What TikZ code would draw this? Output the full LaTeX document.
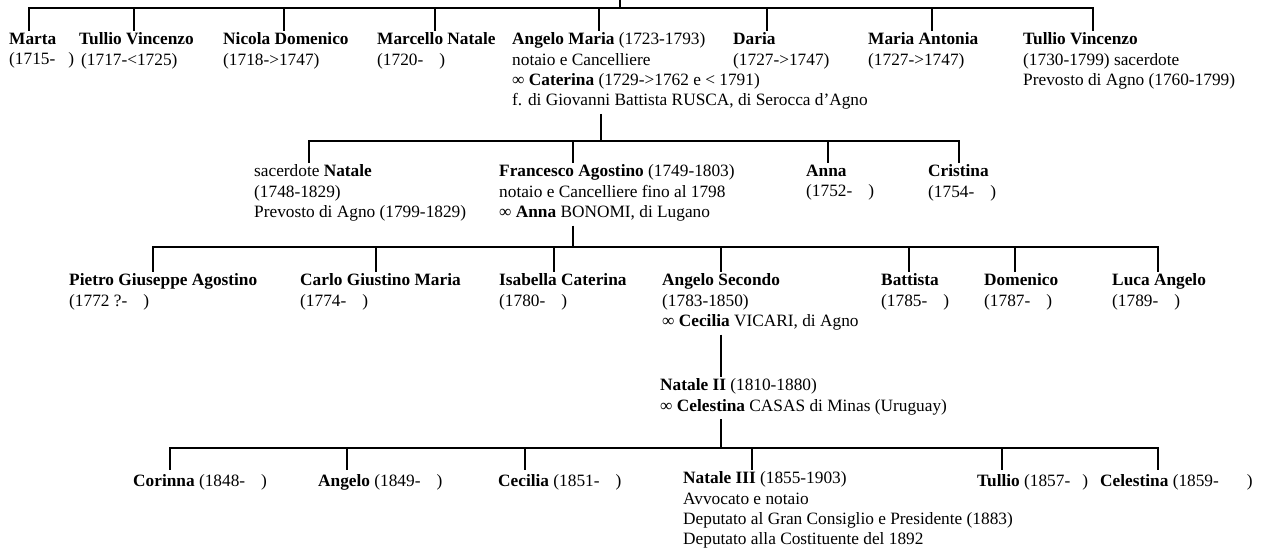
\documentclass[tikz,border=0pt]{standalone}
\usepackage{fontspec}
\setmainfont{Liberation Serif}
\begin{document}
\begin{tikzpicture}[x=1pt,y=-1pt,
    person/.style={anchor=north west,align=left,inner xsep=0pt,inner ysep=2pt,
      font=\fontsize{17.3}{20.3}\selectfont,
      execute at begin node=\strut,execute at end node=\strut},
    line/.style={line width=2.5pt}]
\useasboundingbox (0,0) rectangle (1266,559);

% first generation
\node[person] (m1) at (9,30.6) {\textbf{Marta}\\(1715-\hspace{13pt})};
\node[person] (m2) at (79,30.6) {\textbf{Tullio Vincenzo}\\\hspace{2pt}(1717-<1725)};
\node[person] (m3) at (223,30.6) {\textbf{Nicola Domenico}\\(1718->1747)};
\node[person] (m4) at (377,30.6) {\textbf{Marcello Natale}\\(1720-\hspace{16pt})};
\node[person] (m5) at (512,30.6) {\textbf{Angelo Maria} (1723-1793)\\notaio e Cancelliere\\∞ \textbf{Caterina} (1729->1762 e < 1791)\\f. di Giovanni Battista RUSCA, di Serocca d’Agno};
\node[person] (m6) at (733,30.6) {\textbf{Daria}\\(1727->1747)};
\node[person] (m7) at (868,30.6) {\textbf{Maria Antonia}\\(1727->1747)};
\node[person] (m8) at (1023,30.6) {\textbf{Tullio Vincenzo}\\(1730-1799) sacerdote\\Prevosto di Agno (1760-1799)};

% second generation
\node[person] (n1) at (254,162.6) {sacerdote \textbf{Natale}\\(1748-1829)\\Prevosto di Agno (1799-1829)};
\node[person] (n2) at (499,162.6) {\textbf{Francesco Agostino} (1749-1803)\\notaio e Cancelliere fino al 1798\\∞ \textbf{Anna} BONOMI, di Lugano};
\node[person] (n3) at (806,162.6) {\textbf{Anna}\\(1752-\hspace{16pt})};
\node[person] (n4) at (928,162.6) {\textbf{Cristina}\\(1754-\hspace{16pt})};

% third generation
\node[person] (g1) at (69,271.6) {\textbf{Pietro Giuseppe Agostino}\\(1772 ?-\hspace{16pt})};
\node[person] (g2) at (300,271.6) {\textbf{Carlo Giustino Maria}\\(1774-\hspace{16pt})};
\node[person] (g3) at (499,271.6) {\textbf{Isabella Caterina}\\(1780-\hspace{16pt})};
\node[person] (g4) at (662,271.6) {\textbf{Angelo Secondo}\\(1783-1850)\\∞ \textbf{Cecilia} VICARI, di Agno};
\node[person] (g5) at (881,271.6) {\textbf{Battista}\\(1785-\hspace{16pt})};
\node[person] (g6) at (984,271.6) {\textbf{Domenico}\\(1787-\hspace{16pt})};
\node[person] (g7) at (1112,271.6) {\textbf{Luca Angelo}\\(1789-\hspace{16pt})};

\node[person] (nat) at (660,376.6) {\textbf{Natale II} (1810-1880)\\∞ \textbf{Celestina} CASAS di Minas (Uruguay)};

% last generation
\node[person] (c1) at (133,469.6) {\textbf{Corinna} (1848-\hspace{16pt})};
\node[person] (c2) at (318,469.6) {\textbf{Angelo} (1849-\hspace{16pt})};
\node[person] (c3) at (498,469.6) {\textbf{Cecilia} (1851-\hspace{16pt})};
\node[person] (c4) at (683,469.6) {\textbf{Natale III} (1855-1903)\\Avvocato e notaio\\Deputato al Gran Consiglio e Presidente (1883)\\Deputato alla Costituente del 1892};
\node[person] (c5) at (977,469.6) {\textbf{Tullio} (1857-\hspace{12pt})};
\node[person] (c6) at (1100,469.6) {\textbf{Celestina} (1859-\hspace{28pt})};

% junctions on the bars
\coordinate (top) at (620,0);
\coordinate (j11) at (29,8);
\coordinate (j12) at (134,8);
\coordinate (j13) at (284,8);
\coordinate (j14) at (435,8);
\coordinate (j15) at (599,8);
\coordinate (j16) at (767,8);
\coordinate (j17) at (932,8);
\coordinate (j18) at (1093,8);
\coordinate (j20) at (601,141);
\coordinate (j21) at (309,141);
\coordinate (j22) at (573,141);
\coordinate (j23) at (828,141);
\coordinate (j24) at (959,141);
\coordinate (j30) at (573,247);
\coordinate (j31) at (153,247);
\coordinate (j32) at (376,247);
\coordinate (j33) at (554,247);
\coordinate (j34) at (721,247);
\coordinate (j35) at (909,247);
\coordinate (j36) at (1015,247);
\coordinate (j37) at (1158,247);
\coordinate (j40) at (721,448);
\coordinate (j41) at (170,448);
\coordinate (j42) at (347,448);
\coordinate (j43) at (525,448);
\coordinate (j44) at (752,448);
\coordinate (j45) at (1002,448);
\coordinate (j46) at (1158,448);

% first bar
\draw[line] (top) -- (top |- j11);
\draw[line] (j11 |- m1.north) -- (j11) -- (j18) -- (j18 |- m8.north);
\draw[line] (j12) -- (j12 |- m2.north);
\draw[line] (j13) -- (j13 |- m3.north);
\draw[line] (j14) -- (j14 |- m4.north);
\draw[line] (j15) -- (j15 |- m5.north);
\draw[line] (j16) -- (j16 |- m6.north);
\draw[line] (j17) -- (j17 |- m7.north);

% second bar
\draw[line] (j20 |- m5.south) -- (j20);
\draw[line] (j21 |- n1.north) -- (j21) -- (j24) -- (j24 |- n4.north);
\draw[line] (j22) -- (j22 |- n2.north);
\draw[line] (j23) -- (j23 |- n3.north);

% third bar
\draw[line] (j30 |- n2.south) -- (j30);
\draw[line] (j31 |- g1.north) -- (j31) -- (j37) -- (j37 |- g7.north);
\draw[line] (j32) -- (j32 |- g2.north);
\draw[line] (j33) -- (j33 |- g3.north);
\draw[line] (j34) -- (j34 |- g4.north);
\draw[line] (j35) -- (j35 |- g5.north);
\draw[line] (j36) -- (j36 |- g6.north);
\draw[line] (j34 |- g4.south) -- (j34 |- nat.north);

% fourth bar
\draw[line] (j40 |- nat.south) -- (j40);
\draw[line] (j41 |- c1.north) -- (j41) -- (j46) -- (j46 |- c6.north);
\draw[line] (j42) -- (j42 |- c2.north);
\draw[line] (j43) -- (j43 |- c3.north);
\draw[line] (j44) -- (j44 |- c4.north);
\draw[line] (j45) -- (j45 |- c5.north);
\end{tikzpicture}
\end{document}
